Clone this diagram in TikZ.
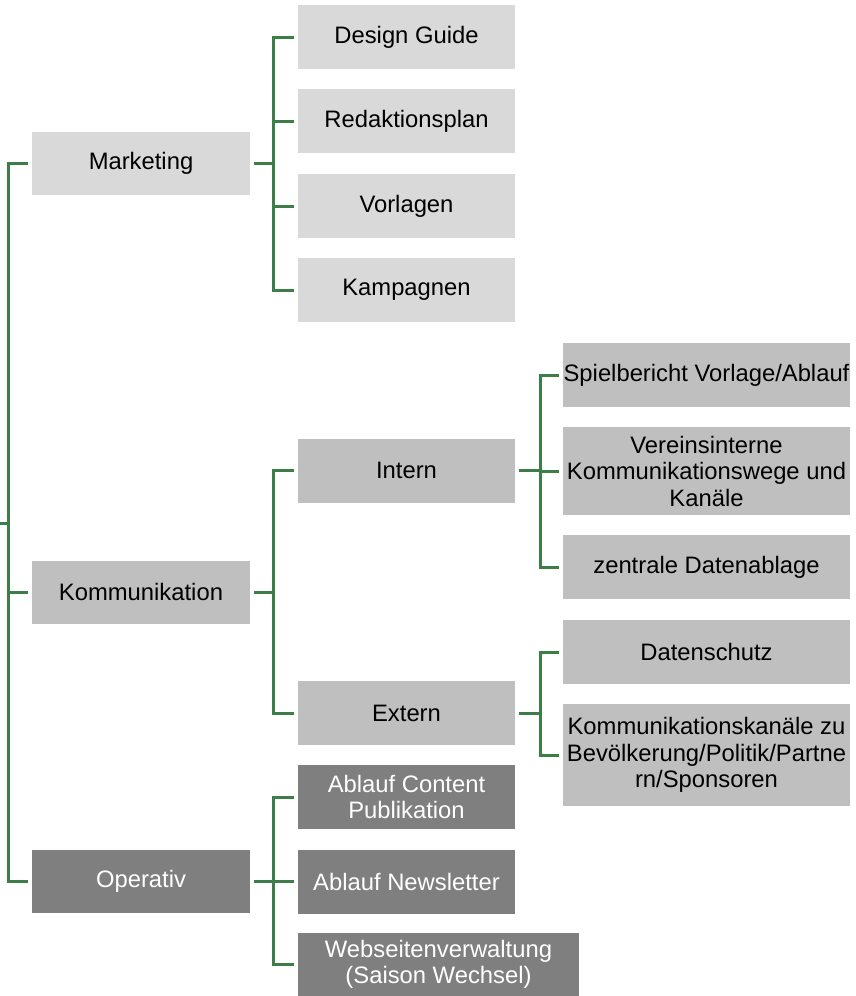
\documentclass[tikz,border=0pt]{standalone}
\usepackage{fontspec}
\setmainfont{Liberation Sans}
\usepackage{xcolor}
\definecolor{BoxLight}{HTML}{D9D9D9}
\definecolor{BoxMid}{HTML}{BFBFBF}
\definecolor{BoxDark}{HTML}{7F7F7F}
\definecolor{BranchColor}{HTML}{3C7D48}
\usetikzlibrary{positioning}

\begin{document}
\begin{tikzpicture}[
        x=1pt, y=-1pt,
        cat/.style={fill=#1, minimum width=218pt, minimum height=63pt, inner sep=0pt, align=center, font=\fontsize{23.8}{26.5}\selectfont},
        sub/.style={cat=#1, minimum width=217pt, minimum height=64pt},
        leaf/.style={cat=BoxMid, minimum width=287pt, minimum height=64pt},
        conn/.style={draw=BranchColor, line width=3pt, shorten <=4pt, shorten >=4pt}
    ]
        \useasboundingbox (0,0) rectangle (855,996);

        % first level
        \node[cat=BoxLight] (mkt) at (141,163.5) {Marketing};
        \node[cat=BoxMid] (kom) at (141,592) {Kommunikation};
        \node[cat=BoxDark, text=white] (ope) at (141,881.5) {Operativ};

        % marketing
        \node[sub=BoxLight] (design) at (406.5,37) {Design Guide};
        \node[sub=BoxLight] (redplan) at (406.5,121) {Redaktionsplan};
        \node[sub=BoxLight] (vorl) at (406.5,206) {Vorlagen};
        \node[sub=BoxLight] (kamp) at (406.5,290) {Kampagnen};

        % kommunikation
        \node[sub=BoxMid] (intern) at (406.5,470.5) {Intern};
        \node[sub=BoxMid] (extern) at (406.5,713) {Extern};

        \node[leaf] (spiel) at (706.5,375) {Spielbericht Vorlage/Ablauf};
        \node[leaf, minimum height=88pt] (wege) at (706.5,471) {Vereinsinterne\\Kommunikationswege und\\Kanäle};
        \node[leaf] (ablage) at (706.5,567) {zentrale Datenablage};
        \node[leaf] (dschutz) at (706.5,652) {Datenschutz};
        \node[leaf, minimum height=102pt] (kanaele) at (706.5,755) {Kommunikationskanäle zu\\Bevölkerung/Politik/Partne\\rn/Sponsoren};

        % operativ
        \node[sub=BoxDark, text=white] (content) at (406.5,797) {Ablauf Content\\Publikation};
        \node[sub=BoxDark, text=white] (newsl) at (406.5,881.5) {Ablauf Newsletter};
        \node[sub=BoxDark, text=white, minimum width=281pt, minimum height=63pt] (webs) at (438.5,964.5) {Webseitenverwaltung\\(Saison Wechsel)};

        % connectors
        \coordinate (root) at (0,523);
        \draw[conn, shorten <=0pt] (root) -- ++(8,0) |- (mkt.west);
        \draw[conn, shorten <=0pt] (root) -- ++(8,0) |- (kom.west);
        \draw[conn, shorten <=0pt] (root) -- ++(8,0) |- (ope.west);

        \draw[conn] (mkt.east) -- ++(23,0) |- (design.west);
        \draw[conn] (mkt.east) -- ++(23,0) |- (redplan.west);
        \draw[conn] (mkt.east) -- ++(23,0) |- (vorl.west);
        \draw[conn] (mkt.east) -- ++(23,0) |- (kamp.west);

        \draw[conn] (kom.east) -- ++(23,0) |- (intern.west);
        \draw[conn] (kom.east) -- ++(23,0) |- (extern.west);

        \draw[conn] (intern.east) -- ++(25,0) |- (spiel.west);
        \draw[conn] (intern.east) -- ++(25,0) |- (wege.west);
        \draw[conn] (intern.east) -- ++(25,0) |- (ablage.west);

        \draw[conn] (extern.east) -- ++(25,0) |- (dschutz.west);
        \draw[conn] (extern.east) -- ++(25,0) |- (kanaele.west);

        \draw[conn] (ope.east) -- ++(23,0) |- (content.west);
        \draw[conn] (ope.east) -- ++(23,0) |- (newsl.west);
        \draw[conn] (ope.east) -- ++(23,0) |- (webs.west);

    \end{tikzpicture}
\end{document}
